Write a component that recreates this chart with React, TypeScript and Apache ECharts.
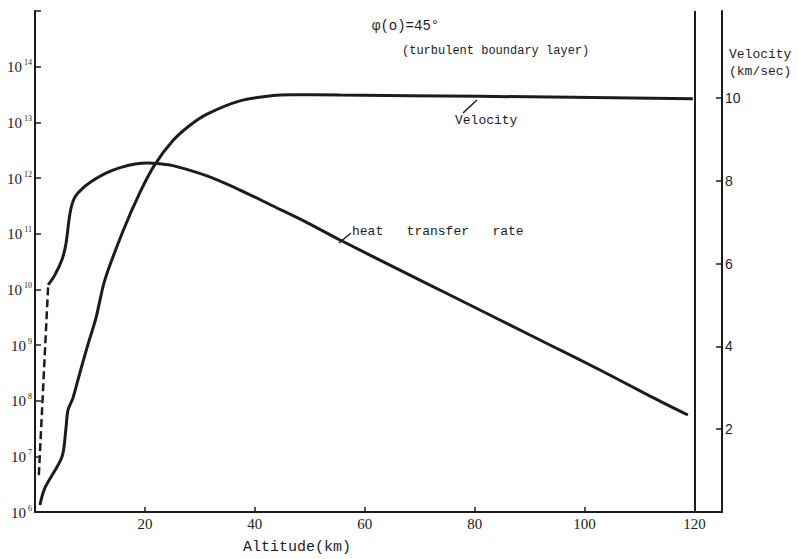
import React, { useEffect, useRef } from "react";
import * as echarts from "echarts";

// Heat transfer rate (log scale, left axis) vs altitude (km)
const heatAltitude = [2.4, 3.6, 4.9, 5.6, 6.2, 6.6, 7.3, 8.7, 10.9, 13.1, 15.5, 18.2, 20.6, 22.7, 25.1, 31.3, 37.3, 43.3, 49.5, 55.5, 66.4, 75.5, 84.6, 93.7, 102.8, 111.9, 118.8];
const heatRate = [1.2e10, 1.8e10, 3.4e10, 6.3e10, 1.8e11, 3.0e11, 4.6e11, 6.6e11, 9.5e11, 1.25e12, 1.54e12, 1.78e12, 1.86e12, 1.8e12, 1.67e12, 1.09e12, 6.08e11, 3.14e11, 1.58e11, 7.69e10, 2.22e10, 7.9e9, 2.81e9, 1.0e9, 3.56e8, 1.21e8, 5.53e7];

// Dashed part of heat transfer rate at low altitude
const dashedAltitude = [0.7, 2.4];
const dashedRate = [4.6e6, 1.2e10];

// Velocity (km/sec, right axis) vs altitude (km)
const velAltitude = [0.9, 1.8, 4.9, 5.6, 6.0, 6.9, 8.2, 9.6, 11.1, 12.7, 16.0, 19.1, 21.8, 25.1, 28.2, 31.3, 37.3, 43.3, 46.4, 55.5, 81.0, 119.7];
const velocity = [0.17, 0.58, 1.33, 1.98, 2.46, 2.75, 3.38, 4.03, 4.69, 5.6, 6.78, 7.72, 8.39, 8.97, 9.34, 9.61, 9.93, 10.06, 10.08, 10.07, 10.04, 9.98];

const altitudeTicks = [20, 40, 60, 80, 100, 120];
const velocityTicks = [2, 4, 6, 8, 10];

const INK = "#1c1c1c";
const MONO = "'Liberation Mono', 'DejaVu Sans Mono', monospace";
const SERIF = "'Liberation Serif', 'DejaVu Serif', serif";
const SANS = "'Liberation Sans', Arial, sans-serif";

export default function App() {
  const ref = useRef<HTMLDivElement>(null);
  useEffect(() => {
    const chart = echarts.init(ref.current!, null, { renderer: "svg" });
    const zip = (a: number[], b: number[]) => a.map((x, i) => [x, b[i]]);
    chart.setOption({
      animation: false,
      backgroundColor: "#ffffff",
      grid: { left: 35, right: 76, top: 11, bottom: 47, containLabel: false },
      xAxis: {
        type: "value",
        min: 0,
        max: 125,
        interval: 20,
        splitLine: { show: false },
        axisLine: { lineStyle: { color: INK, width: 2 } },
        axisTick: { inside: true, length: 5, lineStyle: { color: INK, width: 1.5 }, customValues: altitudeTicks },
        axisLabel: {
          customValues: altitudeTicks,
          formatter: (v: number) => (altitudeTicks.includes(v) ? String(v) : ""),
          color: INK,
          fontFamily: SERIF,
          fontSize: 15,
          margin: 4,
        },
      },
      yAxis: [
        {
          type: "log",
          logBase: 10,
          min: 1e6,
          max: 1e15,
          splitNumber: 9,
          splitLine: { show: false },
          axisLine: { show: true, lineStyle: { color: INK, width: 2 } },
          axisTick: { inside: true, length: 6, lineStyle: { color: INK, width: 1.5 } },
          axisLabel: {
            margin: 3,
            formatter: (v: number) => {
              const e = Math.round(Math.log10(v));
              if (e > 14) return "";
              return `{b|10}{s|${e}}`;
            },
            rich: {
              b: { fontFamily: SERIF, fontSize: 15, color: INK, lineHeight: 16, verticalAlign: "bottom" },
              s: { fontFamily: SERIF, fontSize: 8, color: INK, lineHeight: 16, verticalAlign: "top", padding: [0, 0, 0, 2] },
            },
          },
        },
        {
          type: "value",
          min: 0,
          max: 12.1,
          position: "right",
          splitLine: { show: false },
          axisLine: { show: true, lineStyle: { color: INK, width: 2 } },
          axisTick: { inside: true, length: 6, lineStyle: { color: INK, width: 1.5 }, customValues: velocityTicks },
          axisLabel: {
            customValues: velocityTicks,
            formatter: (v: number) => (velocityTicks.includes(v) ? String(v) : ""),
            color: INK,
            fontFamily: SANS,
            fontSize: 14,
            margin: 3,
          },
        },
      ],
      series: [
        {
          name: "heat transfer rate",
          type: "line",
          yAxisIndex: 0,
          data: zip(heatAltitude, heatRate),
          showSymbol: false,
          smooth: 0.3,
          lineStyle: { color: INK, width: 3 },
          silent: true,
        },
        {
          name: "heat transfer rate (dashed)",
          type: "line",
          yAxisIndex: 0,
          data: zip(dashedAltitude, dashedRate),
          showSymbol: false,
          lineStyle: { color: INK, width: 2.5, type: [8, 4] },
          silent: true,
        },
        {
          name: "Velocity",
          type: "line",
          yAxisIndex: 1,
          data: zip(velAltitude, velocity),
          showSymbol: false,
          smooth: 0.3,
          lineStyle: { color: INK, width: 3 },
          silent: true,
          markLine: {
            silent: true,
            symbol: ["none", "none"],
            label: { show: false },
            lineStyle: { color: INK, width: 2, type: "solid" },
            data: [{ xAxis: 120 }],
          },
        },
      ],
      graphic: [
        { type: "text", left: 372, top: 19, style: { text: "φ(o)=45°", font: `14px ${MONO}`, fill: INK } },
        { type: "text", left: 402, top: 45, style: { text: "(turbulent boundary layer)", font: `12px ${MONO}`, fill: INK } },
        { type: "text", left: 729, top: 48, style: { text: "Velocity", font: `13px ${MONO}`, fill: INK } },
        { type: "text", left: 729, top: 65, style: { text: "(km/sec)", font: `13px ${MONO}`, fill: INK } },
        { type: "text", left: 455, top: 114, style: { text: "Velocity", font: `13px ${MONO}`, fill: INK } },
        { type: "line", shape: { x1: 463, y1: 113, x2: 477, y2: 100 }, style: { stroke: INK, lineWidth: 1.5 } },
        { type: "text", left: 352, top: 225, style: { text: "heat   transfer   rate", font: `13px ${MONO}`, fill: INK } },
        { type: "line", shape: { x1: 339, y1: 243, x2: 351, y2: 233 }, style: { stroke: INK, lineWidth: 1.5 } },
        { type: "text", left: 243, top: 540, style: { text: "Altitude(km)", font: `15px ${MONO}`, fill: INK } },
      ],
    });
    return () => chart.dispose();
  }, []);
  return <div ref={ref} style={{ position: "absolute", left: 0, top: 0, width: 798, height: 559 }} />;
}
